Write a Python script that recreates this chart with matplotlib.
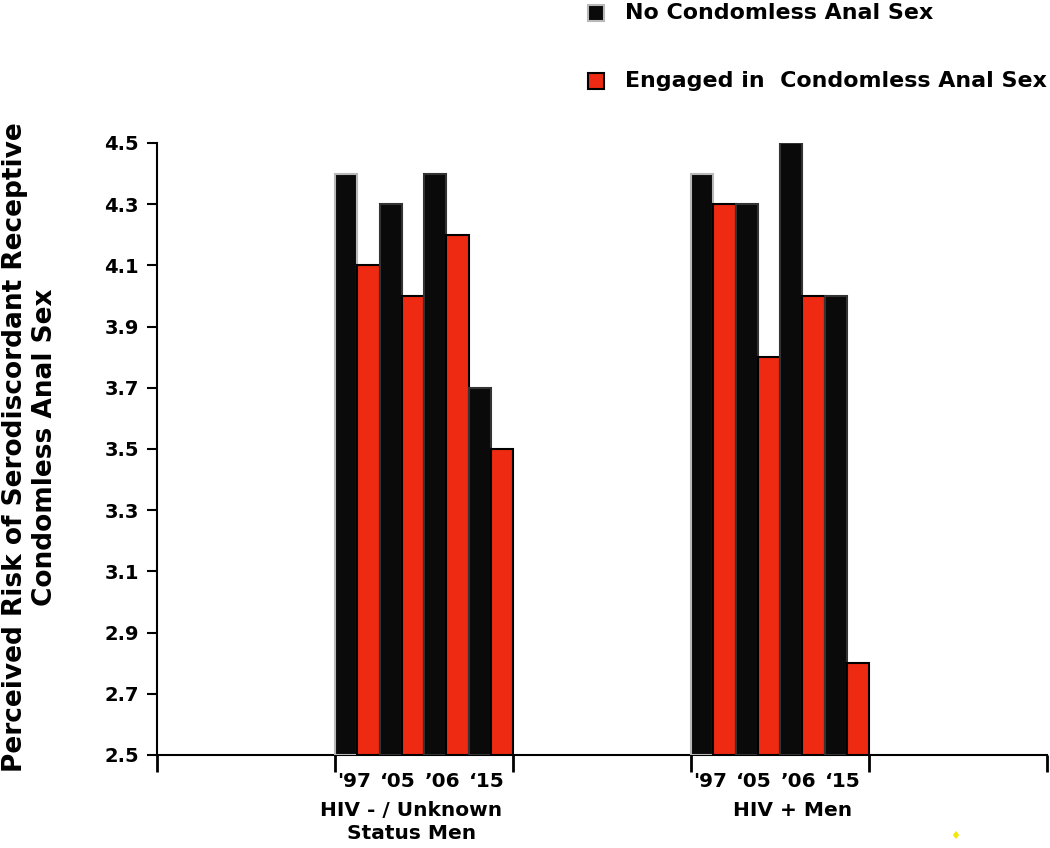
import matplotlib
matplotlib.use("Agg")
import matplotlib.pyplot as plt
from matplotlib.patches import Rectangle

plt.rcParams['font.family'] = ['DejaVu Sans']
plt.rcParams['font.weight'] = 'bold'

groups = ["HIV - / Unknown\nStatus Men", "HIV + Men"]
years = ["'97", "\u201805", "\u201906", "\u201815"]
series = ["No Condomless Anal Sex", "Engaged in  Condomless Anal Sex"]
no_cas = [[4.4, 4.3, 4.4, 3.7], [4.4, 4.3, 4.5, 4.0]]
cas = [[4.1, 4.0, 4.2, 3.5], [4.3, 3.8, 4.0, 2.8]]
yticks = [2.5, 2.7, 2.9, 3.1, 3.3, 3.5, 3.7, 3.9, 4.1, 4.3, 4.5]

BLACK = '#0a0a0a'
RED = '#ee2a12'

fig = plt.figure(figsize=(10.5, 8.48), dpi=100)
ax = fig.add_axes([157/1050, 1-755/848, (1047-157)/1050, (755-143)/848])

group_starts = [1, 3]
w = 1/8
ybase = 2.5
for g, start in enumerate(group_starts):
    for j in range(len(years)):
        xb = start + 2*j*w
        ec = '#b8b8b8' if j == 0 else '#333333'
        ax.bar(xb, no_cas[g][j]-ybase, width=w, bottom=ybase, align='edge',
               color=BLACK, edgecolor=ec, linewidth=1.5, zorder=3)
        ax.bar(xb+w, cas[g][j]-ybase, width=w, bottom=ybase, align='edge',
               color=RED, edgecolor='black', linewidth=1.5, zorder=3)
        ax.text(xb+w - 0.02, -0.028, years[j], transform=ax.get_xaxis_transform(),
                ha='center', va='top', fontsize=14.5, fontweight='bold')

group_label_x = [1.43, 3.57]
for g, lab in enumerate(groups):
    ax.text(group_label_x[g], -0.075, lab, transform=ax.get_xaxis_transform(),
            ha='center', va='top', fontsize=14.5, fontweight='bold', linespacing=1.25)

ax.set_xlim(0, 5)
ax.set_ylim(2.5, 4.5)
ax.set_xticks([0, 1, 2, 3, 4, 5])
ax.set_xticklabels([])
ax.set_yticks(yticks)
ax.set_yticklabels([f"{v:.1f}" for v in yticks])
ax.tick_params(axis='y', direction='out', length=7, width=1.5, pad=6,
               labelsize=14)
ax.tick_params(axis='x', direction='out', length=12, width=2)
for s in ['top', 'right']:
    ax.spines[s].set_visible(False)
for s in ['left', 'bottom']:
    ax.spines[s].set_linewidth(1.5)
for lab in ax.get_yticklabels():
    lab.set_fontweight('bold')

fig.text(30/1050, 1-447/848,
         "Perceived Risk of Serodiscordant Receptive\nCondomless Anal Sex",
         rotation=90, ha='center', va='center', fontsize=19,
         fontweight='bold', multialignment='center', linespacing=1.2)

# legend
leg_colors = [BLACK, RED]
leg_edges = ['#b8b8b8', 'black']
leg_y = [13, 81]
for i, name in enumerate(series):
    fig.patches.append(Rectangle((588/1050, 1-(leg_y[i]+8)/848), 16/1050, 16/848,
                                 transform=fig.transFigure, facecolor=leg_colors[i],
                                 edgecolor=leg_edges[i], linewidth=1.5))
    fig.text(625/1050, 1-leg_y[i]/848, name, ha='left', va='center',
             fontsize=15.9, fontweight='bold')

# small yellow mark
fig.text(955/1050, 1-836/848, "\u2666", color='#f5e800', fontsize=8,
         ha='center', va='center')

fig.savefig("out.png", dpi=100)
